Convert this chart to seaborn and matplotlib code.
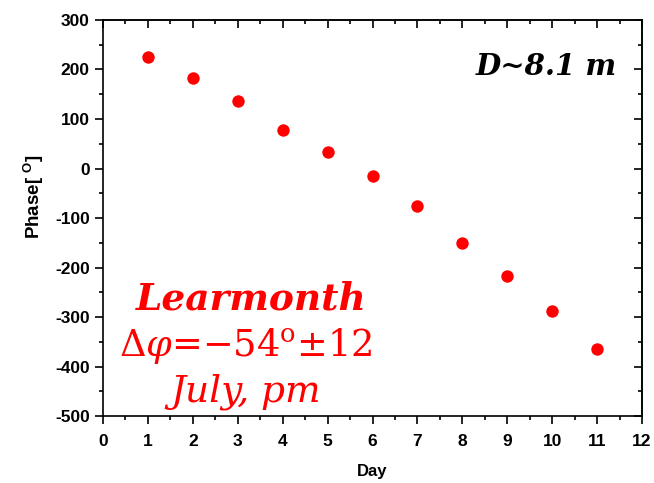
import matplotlib
matplotlib.use("Agg")
import matplotlib.pyplot as plt
import seaborn as sns
import pandas as pd
from matplotlib.ticker import MultipleLocator

days = [1, 2, 3, 4, 5, 6, 7, 8, 9, 10, 11]
phase = [225, 183, 136, 78, 33, -15, -76, -150, -217, -288, -365]

sns.set_theme(style="ticks")
plt.rcParams['font.family'] = ['Liberation Sans', 'DejaVu Sans']
plt.rcParams['axes.unicode_minus'] = False
plt.rcParams['text.color'] = 'black'
plt.rcParams['axes.labelcolor'] = 'black'
plt.rcParams['xtick.color'] = 'black'
plt.rcParams['ytick.color'] = 'black'
plt.rcParams['mathtext.fontset'] = 'custom'
plt.rcParams['mathtext.bf'] = 'Liberation Sans:bold'
plt.rcParams['mathtext.rm'] = 'DejaVu Serif'
plt.rcParams['mathtext.it'] = 'DejaVu Serif:italic'

df = pd.DataFrame({"Day": days, "Phase": phase})

fig = plt.figure(figsize=(6.54, 4.83), dpi=100)
ax = fig.add_axes([0.1575, 0.1387, 0.9817 - 0.1575, 0.9586 - 0.1387])
sns.scatterplot(data=df, x="Day", y="Phase", ax=ax, color="red", s=80,
                edgecolor="red", linewidth=0, legend=False)

ax.set_xlim(0, 12)
ax.set_ylim(-500, 300)
ax.xaxis.set_major_locator(MultipleLocator(1))
ax.xaxis.set_minor_locator(MultipleLocator(0.5))
ax.yaxis.set_major_locator(MultipleLocator(100))
ax.yaxis.set_minor_locator(MultipleLocator(50))
for s in ax.spines.values():
    s.set_visible(True)
    s.set_linewidth(1.2)
    s.set_color("black")
ax.tick_params(which="both", direction="out", color="black", width=1.2,
               top=False, right=False, labelcolor="black")
ax.tick_params(which="major", length=6, labelsize=12.5)
ax.tick_params(axis="x", which="major", pad=7)
ax.tick_params(which="minor", length=3)
ax2 = ax.secondary_yaxis('right')
ax2.yaxis.set_major_locator(MultipleLocator(100))
ax2.yaxis.set_minor_locator(MultipleLocator(50))
ax2.tick_params(which="both", direction="in", labelright=False, width=1.2, color="black")
ax2.tick_params(which="major", length=6)
ax2.tick_params(which="minor", length=3)
ax3 = ax.secondary_xaxis('top')
ax3.xaxis.set_major_locator(MultipleLocator(1))
ax3.xaxis.set_minor_locator(MultipleLocator(0.5))
ax3.tick_params(which="both", direction="in", labeltop=False, width=1.2, color="black")
ax3.tick_params(which="major", length=6)
ax3.tick_params(which="minor", length=3)

for lab in ax.get_xticklabels() + ax.get_yticklabels():
    lab.set_fontweight("bold")

ax.set_xlabel("Day", fontsize=12, fontweight="bold", labelpad=11)
ax.set_ylabel(r"Phase[ $^{\mathbf{O}}$]", fontsize=13.5, fontweight="bold")
ax.yaxis.set_label_coords(-0.106, 0.555)

ax.text(0.953, 0.883, "D~8.1 m", transform=ax.transAxes, ha="right", va="center",
        fontsize=21, fontweight="bold", style="italic", family="DejaVu Serif")

ax.text(0.275, 0.295, "Learmonth", transform=ax.transAxes, ha="center", va="center",
        fontsize=27, fontweight="bold", style="italic", color="red",
        family="DejaVu Serif")
ax.text(0.265, 0.178, r"$\mathit{Δφ}$=−54$^{\mathrm{o}}$±12", transform=ax.transAxes,
        ha="center", va="center", fontsize=26.5, color="red", family="DejaVu Serif")
ax.text(0.265, 0.062, "July, pm", transform=ax.transAxes, ha="center", va="center",
        fontsize=27, style="italic", color="red", family="DejaVu Serif")

fig.savefig("out.png", dpi=100)
